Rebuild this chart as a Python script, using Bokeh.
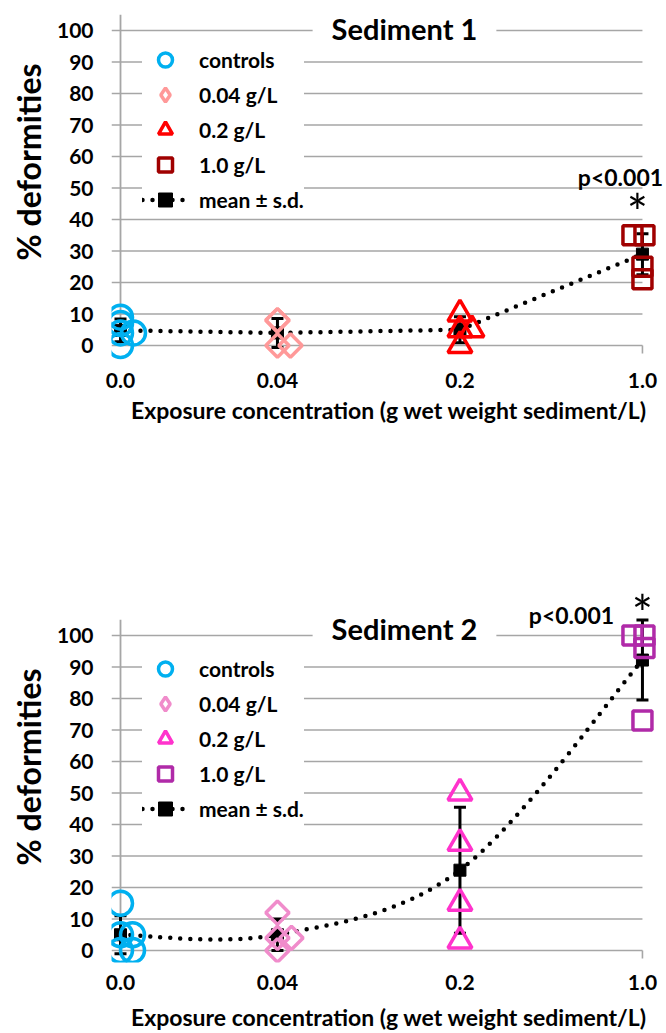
import math
from bokeh.plotting import figure
from bokeh.layouts import column
from bokeh.models import FixedTicker, Label, Legend, LegendItem, Title, Range1d
from bokeh.embed import file_html
from bokeh.resources import INLINE

# ---------------- data ----------------
categories = ["0.0", "0.04", "0.2", "1.0"]
series_names = ["controls", "0.04 g/L", "0.2 g/L", "1.0 g/L"]
y_ticks = [0, 10, 20, 30, 40, 50, 60, 70, 80, 90, 100]
y_axis_max = 105

# Sediment 1: % deformities per replicate
s1_controls = [9, 7, 4, 0, 4]
s1_g004 = [8, 8, 0, 0]
s1_g02 = [10, 5, 0, 5]
s1_g10 = [35, 35, 25, 21]
s1_mean = [4.8, 4.0, 5.0, 29.0]
s1_sd = [3.6, 4.6, 4.1, 6.5]

# Sediment 2: % deformities per replicate
s2_controls = [15, 5, 0, 5, 0]
s2_g004 = [12, 4, 0, 4]
s2_g02 = [50, 34, 15, 3]
s2_g10 = [100, 100, 96, 73]
s2_mean = [5.0, 5.0, 25.5, 92.2]
s2_sd = [6.0, 5.0, 20.0, 12.7]

# ---------------- layout / style ----------------
cat_pos = [0.0, 0.86, 1.86, 2.86]
X_PX = 182.5
Y_PX = 3.15
FONT = "Lato"
GRID = "#A6A6A6"
FIG_W = 666
LEFT = 111
NAN = float("nan")

s1_jit = [[0, 0, 0, 0, 13], [0, 0, 0, 13], [0, 0, 0, 12], [-10, 2, 0, 0]]
s2_jit = [[0, 0, 0, 12, 12], [0, 0, 0, 14], [0, 0, 0, 0], [-10, 2, 2, 0]]
s1_colors = ["#00B0F0", "#FF9999", "#FF0000", "#A00000"]
s2_colors = ["#00B0F0", "#F08CCB", "#FF33CC", "#B02AA8"]
markers = [("circle", 24, 0.0), ("square", 16.5, math.pi / 4), ("triangle", 24, 0.0), ("square", 19, 0.0)]
legend_markers = ["circle", "diamond", "triangle", "square"]


def panel(title, groups, jits, colors, means, sds, smooth, height, b_top, b_bottom,
          zero_px, legend_vy, title_dy, xlab_standoff, ylab_offset,
          star_dx, star_dy, p_dx, p_dy):
    frame_w = FIG_W - LEFT
    frame_h = height - b_top - b_bottom
    x0 = -9 / X_PX
    y0 = -zero_px / Y_PX
    p = figure(width=FIG_W, height=height, output_backend="svg", toolbar_location=None,
               title=None, x_range=Range1d(x0, x0 + frame_w / X_PX),
               y_range=Range1d(y0, y0 + frame_h / Y_PX),
               min_border_left=LEFT, min_border_right=0, min_border_top=b_top,
               min_border_bottom=b_bottom)
    p.outline_line_color = None
    p.xgrid.visible = False
    p.ygrid.visible = False

    # grid lines and axis lines
    n = len(y_ticks)
    p.segment(x0=[x0] * n, y0=y_ticks, x1=[cat_pos[-1]] * n, y1=y_ticks,
              line_color=GRID, line_width=1.6)
    p.segment(x0=[0], y0=[0], x1=[0], y1=[y_axis_max], line_color=GRID, line_width=1.8)
    p.segment(x0=[cat_pos[-1]], y0=[0], x1=[cat_pos[-1]], y1=[-8 / Y_PX],
              line_color=GRID, line_width=1.6)

    # axes
    for ax in (p.xaxis[0], p.yaxis[0]):
        ax.axis_line_color = None
        ax.major_tick_line_color = None
        ax.minor_tick_line_color = None
        ax.major_tick_out = 0
        ax.major_tick_in = 0
        ax.minor_tick_out = 0
        ax.major_label_text_font = FONT
        ax.major_label_text_font_style = "bold"
        ax.major_label_text_font_size = "21px"
        ax.major_label_text_color = "black"
    p.xaxis.ticker = FixedTicker(ticks=cat_pos)
    p.xaxis.major_label_overrides = {pos: lab for pos, lab in zip(cat_pos, categories)}
    p.xaxis.major_label_standoff = 12
    p.xaxis.axis_label = "Exposure concentration (g wet weight sediment/L)"
    p.xaxis.axis_label_text_font = FONT
    p.xaxis.axis_label_text_font_style = "bold"
    p.xaxis.axis_label_text_font_size = "23px"
    p.xaxis.axis_label_text_color = "black"
    p.xaxis.axis_label_standoff = xlab_standoff
    p.yaxis.ticker = FixedTicker(ticks=y_ticks)
    p.yaxis.major_label_standoff = 18

    p.add_layout(Title(text="% deformities", align="left", offset=ylab_offset,
                       text_font=FONT, text_font_style="bold", text_font_size="32px",
                       text_color="black", standoff=12), "left")

    # mean line
    if smooth:
        n = len(means)
        P = list(zip(cat_pos, means))
        bx0, by0, bx1, by1, cx0, cy0, cx1, cy1 = [], [], [], [], [], [], [], []
        for i in range(n - 1):
            pm = P[max(i - 1, 0)]
            pa = P[i]
            pb = P[i + 1]
            pn = P[min(i + 2, n - 1)]
            bx0.append(pa[0]); by0.append(pa[1]); bx1.append(pb[0]); by1.append(pb[1])
            cx0.append(pa[0] + (pb[0] - pm[0]) / 6); cy0.append(pa[1] + (pb[1] - pm[1]) / 6)
            cx1.append(pb[0] - (pn[0] - pa[0]) / 6); cy1.append(pb[1] - (pn[1] - pa[1]) / 6)
        r_line = p.bezier(x0=bx0, y0=by0, x1=bx1, y1=by1, cx0=cx0, cy0=cy0, cx1=cx1, cy1=cy1,
                          line_color="black", line_width=4.5, line_dash="0 10", line_cap="round")
    else:
        r_line = p.line(cat_pos, means, line_color="black", line_width=4.5,
                        line_dash="0 10", line_cap="round")

    # error bars
    lo = [m - s for m, s in zip(means, sds)]
    hi = [m + s for m, s in zip(means, sds)]
    p.segment(x0=cat_pos, y0=lo, x1=cat_pos, y1=hi, line_color="black", line_width=3)
    p.scatter(cat_pos + cat_pos, lo + hi, marker="dash", size=12, line_color="black", line_width=3)
    r_mean = p.scatter(cat_pos, means, marker="square", size=12, fill_color="black", line_color="black")

    # replicate points
    for k, (vals, jit) in enumerate(zip(groups, jits)):
        xs = [cat_pos[k] + j / X_PX for j in jit]
        mk, sz, ang = markers[k]
        p.scatter(xs, vals, marker=mk, size=sz, angle=ang, line_color=colors[k],
                  line_width=3.5, fill_color=None)

    # legend proxies (a single NaN point, so only the legend shows them)
    proxies = [p.scatter(x=[NAN], y=[NAN], marker=legend_markers[k], size=14,
                         line_color=colors[k], line_width=3.5, fill_color=None)
               for k in range(4)]
    items = [LegendItem(label=series_names[k], renderers=[proxies[k]]) for k in range(4)]
    items.append(LegendItem(label="mean \u00b1 s.d.", renderers=[r_line, r_mean]))
    leg = Legend(items=items, location=(31, legend_vy), padding=8, spacing=0,
                 glyph_width=46, glyph_height=35, label_height=35, label_standoff=11,
                 label_text_font=FONT, label_text_font_style="bold",
                 label_text_font_size="21px", label_text_color="black",
                 background_fill_color="white", background_fill_alpha=1.0,
                 border_line_color=None, margin=0)
    p.add_layout(leg, "center")

    # panel title on the 100 % gridline
    p.add_layout(Label(x=(404 - 120) / X_PX, y=y_ticks[-1], y_offset=title_dy, text=title,
                       text_align="center", text_baseline="middle", text_font=FONT,
                       text_font_style="bold", text_font_size="29px", text_color="black",
                       background_fill_color="white", padding=(19, 3)))
    # significance
    top = hi[-1]
    p.add_layout(Label(x=cat_pos[-1], y=top, x_offset=star_dx, y_offset=star_dy, text="*",
                       text_align="center", text_baseline="middle", text_font=FONT,
                       text_font_size="50px", text_color="black"))
    p.add_layout(Label(x=cat_pos[-1], y=top, x_offset=p_dx, y_offset=p_dy, text="p<0.001",
                       text_align="center", text_baseline="middle", text_font=FONT,
                       text_font_style="bold", text_font_size="23px", text_color="black"))
    return p


p1 = panel("Sediment 1", [s1_controls, s1_g004, s1_g02, s1_g10], s1_jit, s1_colors,
           s1_mean, s1_sd, False, 540, 12, 180, 15, 143, 2, 5, 100, -5, 22, -22, 57)
p2 = panel("Sediment 2", [s2_controls, s2_g004, s2_g02, s2_g10], s2_jit, s2_colors,
           s2_mean, s2_sd, True, 493, 40, 71, 12, 136, 7, 10, 97, 0, 7, -71, 5)

layout = column(p1, p2)
open("out.html", "w").write(file_html(layout, INLINE))
